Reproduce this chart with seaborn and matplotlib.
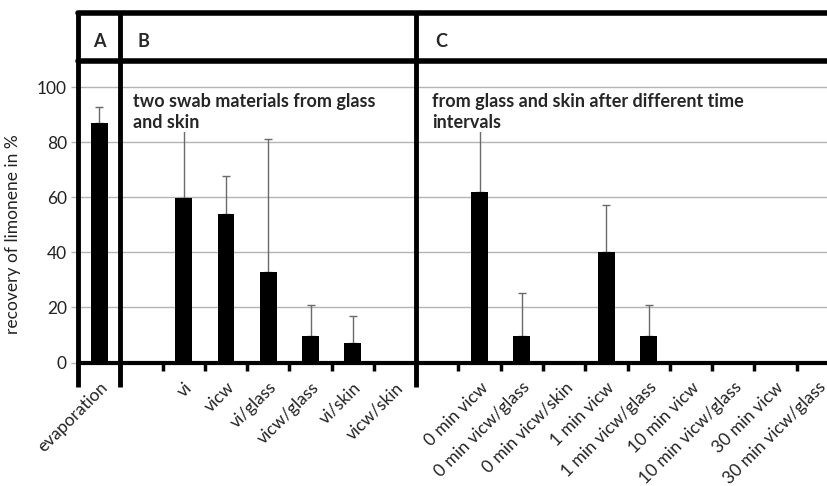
import matplotlib
matplotlib.use("Agg")
import matplotlib.pyplot as plt
import seaborn as sns
import pandas as pd
import numpy as np

# Recovery of limonene (%), one entry per category slot; blank slots separate the panels
categories = [
    "evaporation", "", "vi", "vicw", "vi/glass", "vicw/glass", "vi/skin", "vicw/skin",
    " ", "0 min vicw", "0 min vicw/glass", "0 min vicw/skin", "1 min vicw",
    "1 min vicw/glass", "10 min vicw", "10 min vicw/glass", "30 min vicw", "30 min vicw/glass",
]
recovery = [87.0, 0, 59.8, 53.8, 33.0, 9.8, 7.0, 0,
            0, 62.0, 9.5, 0, 40.2, 9.8, 0, 0, 0, 0]
upper_error = [5.7, 0, 28.0, 14.0, 48.2, 10.9, 9.9, 0,
               0, 24.0, 15.9, 0, 17.0, 10.9, 0, 0, 0, 0]
panel_labels = ["A", "B", "C"]
panel_notes = ["two swab materials from glass\nand skin",
               "from glass and skin after different time\nintervals"]
y_ticks = [0, 20, 40, 60, 80, 100]

df = pd.DataFrame({"category": categories, "recovery": recovery, "err": upper_error})

sns.set_theme(style="white")
plt.rcParams["font.family"] = ["Lato", "DejaVu Sans"]

W, H = 828, 486
fig = plt.figure(figsize=(W / 100, H / 100), dpi=100)
# plot area spans 78..839 px horizontally (runs past the right edge), 13..362.5 px vertically
ax = fig.add_axes([78 / W, (H - 362.5) / H, 761 / W, 349.5 / H])

sns.barplot(data=df, x="category", y="recovery", order=categories, color="black",
            width=0.4, linewidth=0, saturation=1, errorbar=None, ax=ax, zorder=3)

x = np.arange(len(categories))
has_err = df["err"].to_numpy() > 0
ax.errorbar(x[has_err], df["recovery"].to_numpy()[has_err],
            yerr=[np.zeros(has_err.sum()), df["err"].to_numpy()[has_err]],
            fmt="none", ecolor="#6a6a6a", elinewidth=1.0, capsize=3, capthick=1.0, zorder=2)

ymax = 126.9
ax.set_xlim(-0.5, len(categories) - 0.5)
ax.set_ylim(0, ymax)

for s in ax.spines.values():
    s.set_visible(False)

# gridlines and axis line
for v in y_ticks[1:]:
    ax.axhline(v, color="#b4b4b4", lw=1.0, zorder=1)
ax.axhline(0, color="black", lw=3, zorder=4, clip_on=False)

# frame: top border, header divider and panel separators
ax.axhline(ymax, color="black", lw=4, zorder=5, clip_on=False)
ax.axhline(109.4, color="black", lw=4, zorder=5, clip_on=False)
for xs in [-0.5, 0.5, 7.5]:
    ax.plot([xs, xs], [-8.9, ymax], color="black", lw=3.5, zorder=5, clip_on=False,
            solid_capstyle="butt")

ax.set_yticks(y_ticks)
ax.set_yticklabels([str(v) for v in y_ticks], fontsize=12.5, color="#222222")
ax.tick_params(axis="y", left=True, length=5, width=1, color="#b4b4b4", pad=3)
ax.set_ylabel("recovery of limonene in %", fontsize=12.5, color="#222222")
ax.yaxis.set_label_coords(-0.075, 0.368)

ax.set_xticks(x)
ax.set_xticklabels(categories, rotation=45, ha="right", rotation_mode="anchor",
                   fontsize=12.5, color="#222222")
ax.tick_params(axis="x", bottom=True, length=0, pad=12)
ax.set_xticks(np.arange(-0.5, len(categories), 1.0), minor=True)
ax.tick_params(axis="x", which="minor", bottom=True, length=6, width=2.5, color="black")
ax.set_xlabel("")

# panel headers
ax.text(0.0, 116.7, panel_labels[0], ha="center", va="center", fontsize=13, fontweight="bold")
ax.text(0.9, 116.7, panel_labels[1], ha="left", va="center", fontsize=13, fontweight="bold")
ax.text(7.94, 116.7, panel_labels[2], ha="left", va="center", fontsize=13, fontweight="bold")

box = dict(facecolor="white", edgecolor="none", pad=0.5)
ax.text(0.8, 98.0, panel_notes[0], ha="left", va="top", fontsize=13, fontweight="bold",
        linespacing=1.3, bbox=box, zorder=6)
ax.text(7.87, 98.0, panel_notes[1], ha="left", va="top", fontsize=13, fontweight="bold",
        linespacing=1.3, bbox=box, zorder=6)

fig.savefig("out.png", dpi=100)
